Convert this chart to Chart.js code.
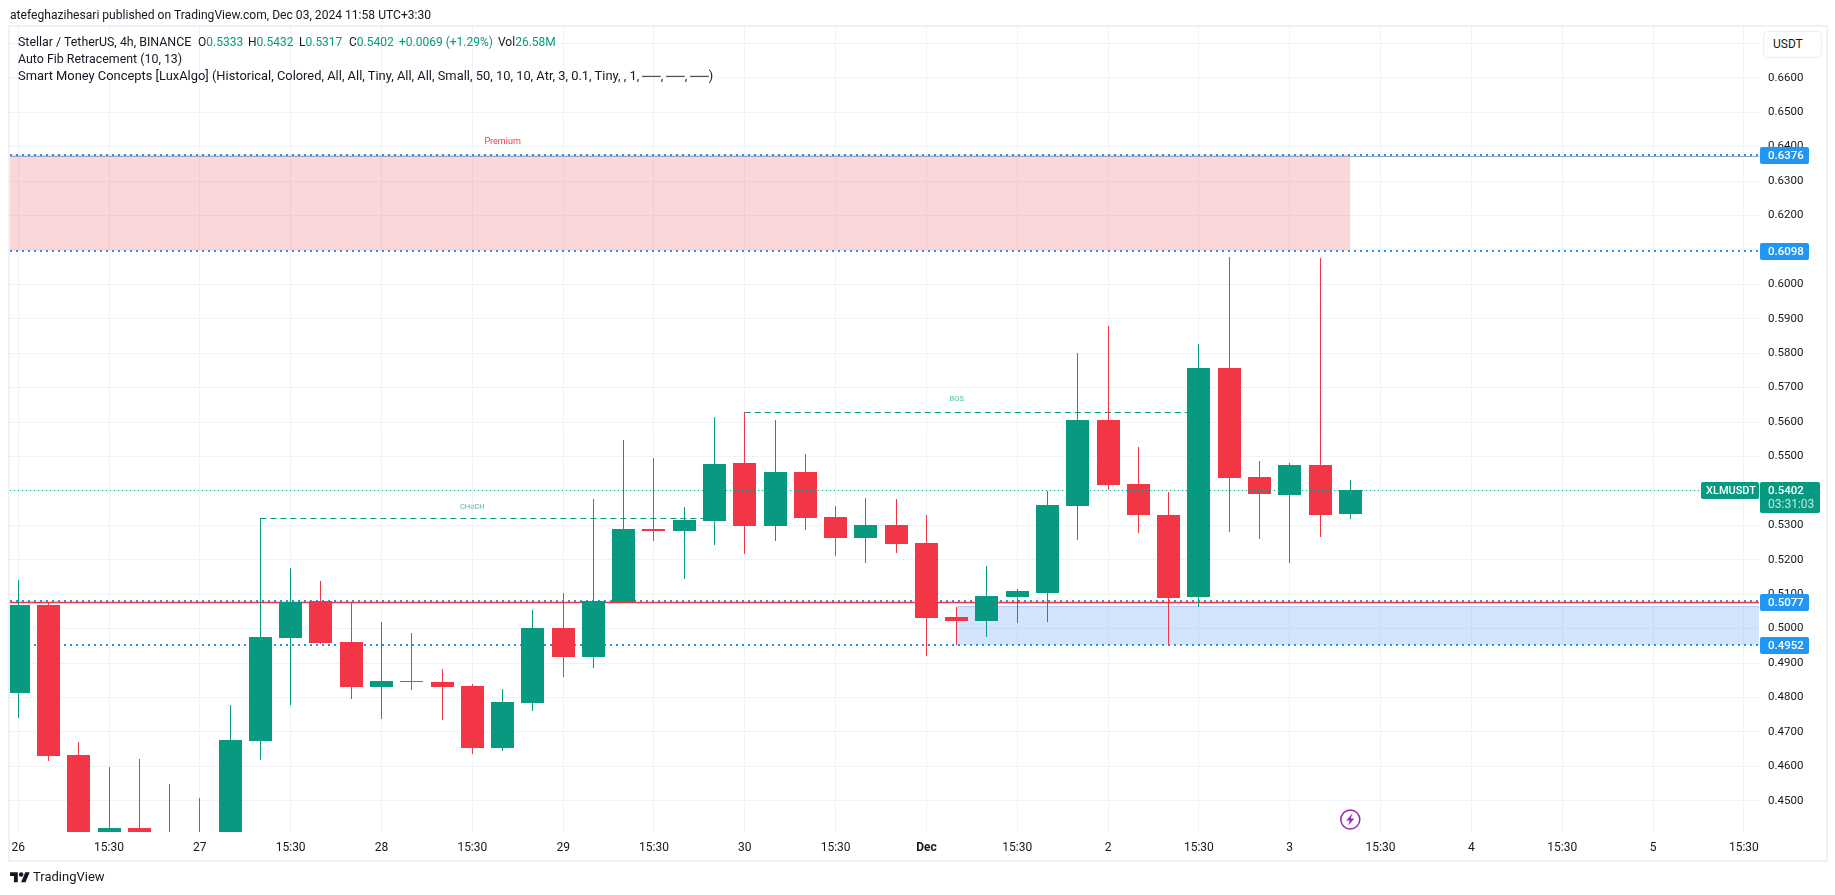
<!DOCTYPE html>
<html>
<head>
<meta charset="utf-8">
<title>XLMUSDT 4h</title>
<script src="https://cdn.jsdelivr.net/npm/chart.js@4"></script>
<style>
    html, body { margin: 0; padding: 0; background: #fff; }
    body { position: relative; width: 1835px; height: 895px; overflow: hidden; font-family: Roboto, sans-serif; color: #131722; font-size: 12px; }
    #chart-wrap { position: absolute; left: 0; top: 0; width: 1835px; height: 895px; }
    #frame { position: absolute; left: 8px; top: 25px; width: 1816px; height: 833px; border: 2px solid #f0f0f6; }
    .txt { position: absolute; white-space: nowrap; line-height: 14px; }
    .val { color: #089981; }
    #usdt { position: absolute; left: 1763px; top: 31px; width: 57px; height: 25px; border: 1.5px solid #eceef5; border-radius: 5px; background: #fff; line-height: 25px; text-indent: 9px; box-sizing: content-box; }
    #logo { position: absolute; left: 10px; top: 870px; width: 20px; height: 15.5px; }
</style>
</head>
<body>
<div id="chart-wrap"><canvas id="chart" width="1835" height="895"></canvas></div>
<div id="frame"></div>
<div class="txt" style="left:10px;top:8px;font-size:12.1px">atefeghazihesari published on TradingView.com, Dec 03, 2024 11:58 UTC+3:30</div>
<div class="txt" style="left:18px;top:35px;font-size:12.4px">Stellar / TetherUS, 4h, BINANCE</div>
<div class="txt" style="left:198px;top:35px">O<span class="val">0.5333</span></div>
<div class="txt" style="left:248px;top:35px">H<span class="val">0.5432</span></div>
<div class="txt" style="left:299px;top:35px">L<span class="val">0.5317</span></div>
<div class="txt" style="left:349px;top:35px">C<span class="val">0.5402</span></div>
<div class="txt val" style="left:399px;top:35px">+0.0069 (+1.29%)</div>
<div class="txt" style="left:498px;top:35px">Vol<span class="val">26.58M</span></div>
<div class="txt" style="left:18px;top:52px;font-size:12.4px">Auto Fib Retracement (10, 13)</div>
<div class="txt" style="left:18px;top:69px;font-size:12.9px">Smart Money Concepts [LuxAlgo] (Historical, Colored, All, All, Tiny, All, All, Small, 50, 10, 10, Atr, 3, 0.1, Tiny, , 1, ──, ──, ──)</div>
<div id="usdt">USDT</div>
<svg id="logo" viewBox="0 0 36 28"><path fill="#131722" d="M14 22H7V11H0V4h14v18zM28 22h-8l7.5-18h8L28 22z"/><circle fill="#131722" cx="20" cy="8" r="4"/></svg>
<div class="txt" style="left:33px;top:870px;font-size:13px">TradingView</div>

<script>
// Bougies 4h (les corps coupés en bas sont estimés)
const opens = [0.4813, 0.5069, 0.4633, 0.4380, 0.4421, 0.4300, 0.4400, 0.4380, 0.4674, 0.4973, 0.5080, 0.4961, 0.4830, 0.4848, 0.4845,
    0.4833, 0.4653, 0.4784, 0.5002, 0.4918, 0.5078, 0.5289, 0.5283, 0.5312, 0.5481, 0.5298, 0.5455, 0.5324, 0.5263, 0.5301,
    0.5249, 0.5034, 0.5022, 0.5092, 0.5103, 0.5356, 0.5606, 0.5420, 0.5330, 0.5092, 0.5757, 0.5440, 0.5388, 0.5475, 0.5333];
const highs = [0.5141, 0.5073, 0.4671, 0.4598, 0.4621, 0.4549, 0.4508, 0.4778, 0.5320, 0.5176, 0.5138, 0.5077, 0.5019, 0.4987, 0.4883,
    0.4839, 0.4825, 0.5054, 0.5103, 0.5376, 0.5548, 0.5495, 0.5353, 0.5615, 0.5628, 0.5606, 0.5507, 0.5356, 0.5379, 0.5376,
    0.5330, 0.5063, 0.5182, 0.5115, 0.5400, 0.5800, 0.5879, 0.5527, 0.5397, 0.5827, 0.6079, 0.5487, 0.5481, 0.6076, 0.5432];
const lows = [0.4740, 0.4616, 0.4300, 0.4360, 0.4360, 0.4280, 0.4280, 0.4350, 0.4618, 0.4778, 0.4955, 0.4796, 0.4738, 0.4822, 0.4735,
    0.4636, 0.4645, 0.4761, 0.4859, 0.4886, 0.5078, 0.5254, 0.5144, 0.5243, 0.5217, 0.5254, 0.5286, 0.5211, 0.5191, 0.5219,
    0.4920, 0.4952, 0.4976, 0.5016, 0.5019, 0.5257, 0.5403, 0.5278, 0.4952, 0.5063, 0.5281, 0.5260, 0.5190, 0.5266, 0.5317];
const closes = [0.5069, 0.4630, 0.4320, 0.4421, 0.4380, 0.4400, 0.4310, 0.4677, 0.4976, 0.5077, 0.4958, 0.4830, 0.4848, 0.4845, 0.4830,
    0.4653, 0.4787, 0.5002, 0.4918, 0.5080, 0.5289, 0.5283, 0.5315, 0.5478, 0.5298, 0.5455, 0.5321, 0.5263, 0.5301, 0.5246,
    0.5031, 0.5022, 0.5095, 0.5109, 0.5359, 0.5606, 0.5417, 0.5330, 0.5089, 0.5757, 0.5437, 0.5391, 0.5475, 0.5330, 0.5402];

// Axe du temps : une étiquette toutes les 3 bougies
const timeTicks = [0, 3, 6, 9, 12, 15, 18, 21, 24, 27, 30, 33, 36, 39, 42, 45, 48, 51, 54, 57];
const timeLabels = ["26", "15:30", "27", "15:30", "28", "15:30", "29", "15:30", "30", "15:30", "Dec", "15:30", "2", "15:30", "3", "15:30", "4", "15:30", "5", "15:30"];
const priceTicks = [0.45, 0.46, 0.47, 0.48, 0.49, 0.50, 0.51, 0.52, 0.53, 0.54, 0.55, 0.56, 0.57, 0.58, 0.59, 0.60, 0.61, 0.62, 0.63, 0.64, 0.65, 0.66, 0.67];

// Niveaux du Smart Money Concepts
const blueLevels = [0.6376, 0.6098, 0.5081, 0.4952];
const blueTags = [0.6376, 0.6098, 0.5077, 0.4952];
const weakLevel = 0.5077;
const topEdge = 0.6371;
const lastPrice = 0.5402;
const premiumZone = [0.6098, 0.6376];
const discountZone = [0.4952, 0.5063];
const chochLine = [8, 23, 0.5320];
const bosLine = [24, 39, 0.5628];

const GREEN = "#089981";
const RED = "#f23645";
const BLUE = "#2196f3";
const xMin = -0.271;
const xMax = 57.5;

const barColors = closes.map((c, i) => (c >= opens[i] ? GREEN : RED));

function hLine(from, to, price, color, width, dash, order) {
    return {
        type: "line",
        data: [{ x: from, y: price }, { x: to, y: price }],
        borderColor: color,
        borderWidth: width,
        borderDash: dash,
        pointRadius: 0,
        order: order,
    };
}

function zone(from, to, range, fillColor, lineColor) {
    return {
        type: "line",
        data: [{ x: from, y: range[1] }, { x: to, y: range[1] }],
        borderColor: lineColor,
        borderWidth: 1,
        backgroundColor: fillColor,
        fill: { value: range[0] },
        pointRadius: 0,
        order: 6,
    };
}

// Aligne barres et lignes sur les pixels pour garder des bords nets
const snapMarks = {
    id: "snapMarks",
    afterDatasetsUpdate(chart) {
        chart.getSortedVisibleDatasetMetas().forEach((meta) => {
            if (meta.type === "bar") {
                meta.data.forEach((el) => {
                    el.x = Math.round(el.x - el.width / 2) + el.width / 2;
                    el.y = Math.round(el.y);
                    el.base = Math.round(el.base);
                    if (el.base === el.y) el.base = el.y + 1;
                });
            } else {
                const thin = chart.data.datasets[meta.index].borderWidth < 2;
                meta.data.forEach((pt) => {
                    pt.y = thin ? Math.floor(pt.y) + 0.5 : Math.round(pt.y);
                });
            }
        });
    },
};

function drawTag(ctx, left, top, w, h, color, text, textColor, inset) {
    ctx.fillStyle = color;
    ctx.beginPath();
    ctx.roundRect(left, top, w, h, 2);
    ctx.fill();
    ctx.fillStyle = textColor;
    ctx.textAlign = "left";
    ctx.textBaseline = "middle";
    ctx.fillText(text, left + inset, top + h / 2 + 0.5);
}

// Textes et étiquettes de prix par-dessus le graphe
const overlay = {
    id: "overlay",
    afterDraw(chart) {
        const ctx = chart.ctx;
        const x = chart.scales.x;
        const y = chart.scales.y;
        ctx.save();
        ctx.textAlign = "center";
        ctx.textBaseline = "middle";
        ctx.font = "9px Roboto";
        ctx.fillStyle = RED;
        ctx.fillText("Premium", x.getPixelForValue(16), y.getPixelForValue(0.6415));
        ctx.font = "7.5px Roboto";
        ctx.fillStyle = "rgba(8,153,129,.7)";
        ctx.fillText("CHoCH", x.getPixelForValue(15), y.getPixelForValue(0.5353));
        ctx.fillText("BOS", x.getPixelForValue(31), y.getPixelForValue(0.5667));

        ctx.font = "500 11.5px Roboto";
        blueTags.forEach((p) => {
            const py = Math.round(y.getPixelForValue(p));
            drawTag(ctx, 1760, py - 8, 49, 17, BLUE, p.toFixed(4), "#fff", 8);
        });
        const py = Math.round(y.getPixelForValue(lastPrice));
        ctx.font = "500 11px Roboto";
        drawTag(ctx, 1701, py - 8, 58, 17, GREEN, "XLMUSDT", "#fff", 5);
        ctx.fillStyle = GREEN;
        ctx.beginPath();
        ctx.roundRect(1760, py - 8, 60, 31, 2);
        ctx.fill();
        ctx.fillStyle = "#fff";
        ctx.textAlign = "left";
        ctx.font = "500 11.5px Roboto";
        ctx.fillText(lastPrice.toFixed(4), 1768, py + 1);
        ctx.font = "12px Roboto";
        ctx.fillStyle = "rgba(255,255,255,.75)";
        ctx.fillText("03:31:03", 1768, py + 15);

        // marqueur violet sous la dernière bougie
        const cx = x.getPixelForValue(44);
        const cy = 819.5;
        ctx.strokeStyle = "#9c27b0";
        ctx.lineWidth = 1.5;
        ctx.beginPath();
        ctx.arc(cx, cy, 9.5, 0, Math.PI * 2);
        ctx.stroke();
        ctx.fillStyle = "#9c27b0";
        ctx.beginPath();
        ctx.moveTo(cx + 2, cy - 6);
        ctx.lineTo(cx - 4, cy + 1);
        ctx.lineTo(cx - 0.5, cy + 1);
        ctx.lineTo(cx - 2, cy + 6);
        ctx.lineTo(cx + 4, cy - 1);
        ctx.lineTo(cx + 0.5, cy - 1);
        ctx.closePath();
        ctx.fill();
        ctx.restore();
    },
};

Chart.defaults.font.family = "Roboto, sans-serif";
Chart.defaults.font.size = 12;
Chart.defaults.color = "#131722";

new Chart(document.getElementById("chart").getContext("2d"), {
    type: "bar",
    data: {
        datasets: [
            zone(xMin, 44, premiumZone, "rgba(242,54,69,.2)", "rgba(242,54,69,0)"),
            zone(31, xMax, discountZone, "rgba(33,110,243,.19)", "rgba(60,110,220,.3)"),
            hLine(xMin, xMax, topEdge, "#93a8c4", 1, [], 5),
            hLine(xMin, xMax, weakLevel, RED, 1.5, [], 3),
            ...blueLevels.map((p) => hLine(xMin, xMax, p, BLUE, 2, [2, 4], 4)),
            hLine(xMin, xMax, lastPrice, GREEN, 1, [1, 3], 0),
            hLine(chochLine[0], chochLine[1], chochLine[2], GREEN, 1, [6, 4], 3),
            hLine(bosLine[0], bosLine[1], bosLine[2], GREEN, 1, [6, 4], 3),
            {
                label: "wicks",
                data: opens.map((o, i) => ({ x: i, y: [lows[i], highs[i]] })),
                backgroundColor: barColors,
                barThickness: 1,
                grouped: false,
                inflateAmount: 0,
                order: 2,
            },
            {
                label: "bodies",
                data: opens.map((o, i) => ({ x: i, y: [o, closes[i]] })),
                backgroundColor: barColors,
                barThickness: 23,
                grouped: false,
                inflateAmount: 0,
                order: 1,
            },
        ],
    },
    options: {
        responsive: false,
        animation: false,
        layout: { padding: { left: 10, top: 27, right: 10, bottom: 35 } },
        plugins: { legend: { display: false }, tooltip: { enabled: false } },
        scales: {
            x: {
                type: "linear",
                min: xMin,
                max: xMax,
                offset: false,
                afterBuildTicks(scale) {
                    scale.ticks = timeTicks.map((v) => ({ value: v }));
                },
                afterFit(scale) {
                    scale.height = 28;
                },
                grid: { color: "#f0f3fa", drawTicks: false, offset: false },
                border: { display: false },
                ticks: {
                    autoSkip: false,
                    maxRotation: 0,
                    padding: 9,
                    callback: (v) => timeLabels[timeTicks.indexOf(v)],
                    font: (c) => (c.tick && c.tick.value === 30 ? { weight: "bold" } : {}),
                },
            },
            y: {
                position: "right",
                min: 0.44092,
                max: 0.67473,
                afterBuildTicks(scale) {
                    scale.ticks = priceTicks.map((v) => ({ value: v }));
                },
                afterFit(scale) {
                    scale.width = 66;
                },
                grid: { color: "#f0f3fa", drawTicks: false },
                border: { display: false },
                ticks: {
                    padding: 9,
                    font: { size: 11.5 },
                    callback: (v) => v.toFixed(4),
                },
            },
        },
    },
    plugins: [snapMarks, overlay],
});
</script>
</body>
</html>
